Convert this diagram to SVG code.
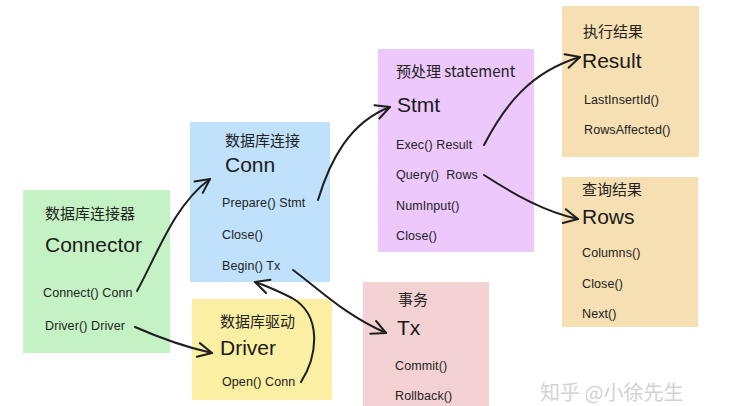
<svg xmlns="http://www.w3.org/2000/svg" width="753" height="406" viewBox="0 0 753 406">
<style>
.t{font-family:"Noto Sans CJK SC","Noto Sans",sans-serif;font-size:15px;fill:#222}
.n{font-family:"Liberation Sans","Noto Sans CJK SC",sans-serif;font-size:21px;fill:#1a1a1a}
.m{font-family:"Liberation Sans","Noto Sans CJK SC",sans-serif;font-size:12.5px;letter-spacing:0.1px;fill:#222;white-space:pre}
.c{fill:none;stroke:#1e1e1e;stroke-width:2;stroke-linecap:round}
.wm{font-family:"Noto Sans CJK SC",sans-serif;font-size:20px;fill:#c8c8c8;opacity:0.8}
</style>
<defs>
<marker id="ah" viewBox="-16 -10 20 20" markerWidth="20" markerHeight="20" refX="0" refY="0" orient="auto" markerUnits="userSpaceOnUse">
<path d="M-14,-7 L0,0 L-14,7" fill="none" stroke="#1e1e1e" stroke-width="2" stroke-linecap="round" stroke-linejoin="round"/>
</marker>
</defs>
<rect width="753" height="406" fill="#ffffff"/>
<g id="connector">
<rect x="23" y="190" width="147" height="163" fill="#c5f2c5"/>
<text class="t" x="45" y="219">数据库连接器</text>
<text class="n" x="45" y="252">Connector</text>
<text class="m" x="43" y="297">Connect() Conn</text>
<text class="m" x="45" y="330">Driver() Driver</text>
</g>
<g id="conn">
<rect x="190" y="122" width="140" height="160" fill="#bfe1fb"/>
<text class="t" x="225" y="146">数据库连接</text>
<text class="n" x="225" y="172">Conn</text>
<text class="m" x="222" y="207">Prepare() Stmt</text>
<text class="m" x="222" y="239">Close()</text>
<text class="m" x="222" y="270">Begin() Tx</text>
</g>
<g id="driver">
<rect x="192" y="299" width="140" height="101" fill="#fbefa3"/>
<text class="t" x="220" y="327">数据库驱动</text>
<text class="n" x="220" y="355">Driver</text>
<text class="m" x="222" y="386">Open() Conn</text>
</g>
<g id="stmt">
<rect x="378" y="49" width="156" height="203" fill="#ecc8fc"/>
<text class="t" x="396" y="77">预处理 statement</text>
<text class="n" x="397" y="112">Stmt</text>
<text class="m" x="396" y="149">Exec() Result</text>
<text class="m" x="396" y="179">Query()  Rows</text>
<text class="m" x="396" y="210">NumInput()</text>
<text class="m" x="396" y="240">Close()</text>
</g>
<g id="result">
<rect x="562" y="6" width="137" height="151" fill="#f6dfb2"/>
<text class="t" x="583" y="37">执行结果</text>
<text class="n" x="582" y="68">Result</text>
<text class="m" x="584" y="104">LastInsertId()</text>
<text class="m" x="584" y="134">RowsAffected()</text>
</g>
<g id="rows">
<rect x="562" y="177" width="136" height="150" fill="#f6dfb2"/>
<text class="t" x="582" y="195">查询结果</text>
<text class="n" x="582" y="224">Rows</text>
<text class="m" x="582" y="257">Columns()</text>
<text class="m" x="582" y="288">Close()</text>
<text class="m" x="582" y="318">Next()</text>
</g>
<g id="tx">
<rect x="363" y="282" width="126" height="124" fill="#f4d2d3"/>
<text class="t" x="398" y="305">事务</text>
<text class="n" x="397" y="335">Tx</text>
<text class="m" x="395" y="370">Commit()</text>
<text class="m" x="395" y="400">Rollback()</text>
</g>
<g id="connectors">
<path class="c" marker-end="url(#ah)" d="M137,291 C157,255 174,205 210,179"/>
<path class="c" marker-end="url(#ah)" d="M135,327 C160,338 185,347 212,353"/>
<path class="c" marker-end="url(#ah)" d="M301,382 C318,355 322,315 292,298 C276,290 264,285 255,282"/>
<path class="c" marker-end="url(#ah)" d="M293,270 C320,290 345,315 386,333"/>
<path class="c" marker-end="url(#ah)" d="M318,200 C330,160 350,122 390,107"/>
<path class="c" marker-end="url(#ah)" d="M484,145 C505,105 530,72 580,57"/>
<path class="c" marker-end="url(#ah)" d="M484,175 C515,195 545,212 578,219"/>
</g>
<text class="wm" x="540" y="400">知乎 @小徐先生</text>
</svg>
